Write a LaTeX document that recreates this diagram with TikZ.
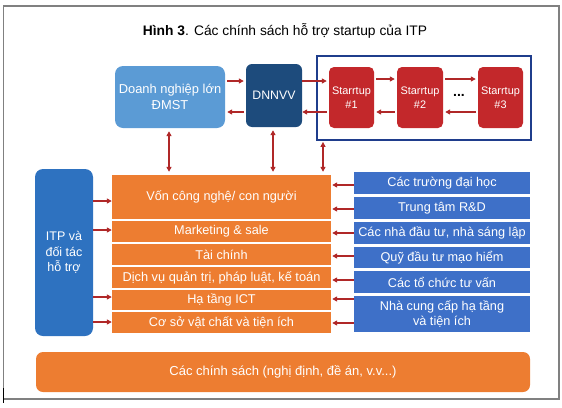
\documentclass[tikz,border=0pt]{standalone}
\usepackage{fontspec}
\setmainfont{Liberation Sans}
\usetikzlibrary{arrows.meta}
\definecolor{lblue}{HTML}{5B9BD5}
\definecolor{dblue}{HTML}{1D4B7C}
\definecolor{sred}{HTML}{C3282B}
\definecolor{fblue}{HTML}{1F3D8C}
\definecolor{iblue}{HTML}{2E72C0}
\definecolor{rblue}{HTML}{3E70C8}
\definecolor{orng}{HTML}{ED7D31}
\definecolor{arred}{HTML}{B02828}
\definecolor{frgray}{HTML}{808080}
\tikzset{
  box/.style={inner sep=0pt, text=white, align=center, font=\fontsize{12.7}{15}\selectfont},
  obox/.style={box, fill=orng},
  rbox/.style={box, fill=rblue},
  arr/.style={draw=arred, line width=1.6pt, -{Triangle[length=5pt,width=5pt]}},
  darr/.style={draw=arred, line width=1.6pt, {Triangle[length=5pt,width=5pt]}-{Triangle[length=5pt,width=5pt]}},
}
\begin{document}
\begin{tikzpicture}[x=1pt,y=-1pt]
\useasboundingbox (0,0) rectangle (562,407);
% outer frame
\draw[frgray, line width=1.2pt] (3.5,6) rectangle (559,399);
\draw[black, line width=0.8pt] (3.5,388) -- (3.5,403);
% title
\node[font=\fontsize{13.8}{15}\selectfont] (title) at (285,30.5) {\textbf{Hình 3}. Các chính sách hỗ trợ startup của ITP};
% top row
\node[box, fill=lblue, rounded corners=8pt, minimum width=110pt, minimum height=62pt, font=\fontsize{12.9}{16}\selectfont] (dn) at (170,97) {Doanh nghiệp lớn\\ĐMST};
\node[box, fill=dblue, rounded corners=6pt, minimum width=56pt, minimum height=63pt, font=\fontsize{12.3}{16}\selectfont] (dnnvv) at (274,95.5) {DNNVV};
\node[draw=fblue, line width=1.8pt, minimum width=214pt, minimum height=84pt, inner sep=0pt] (grp) at (424,98) {};
\node[box, fill=sred, rounded corners=5pt, minimum width=45pt, minimum height=61pt, font=\fontsize{10.9}{14}\selectfont] (s1) at (351.5,97.5) {Starrtup\\\#1};
\node[box, fill=sred, rounded corners=5pt, minimum width=46pt, minimum height=61pt, font=\fontsize{10.9}{14}\selectfont] (s2) at (420,97.5) {Starrtup\\\#2};
\node[box, fill=sred, rounded corners=5pt, minimum width=45pt, minimum height=61pt, font=\fontsize{10.9}{14}\selectfont] (s3) at (500.5,97.5) {Starrtup\\\#3};
\node[font=\fontsize{14}{14}\selectfont\bfseries] (dots) at (459,95) {...};
% left
\node[box, fill=iblue, rounded corners=8pt, minimum width=58pt, minimum height=167pt, font=\fontsize{12.5}{15.5}\selectfont] (itp) at (64,252.5) {ITP và\\đối tác\\hỗ trợ};
% orange rows
\node[obox, minimum width=219pt, minimum height=44pt] (o1) at (221.5,197) {Vốn công nghệ/ con người};
\node[obox, minimum width=219pt, minimum height=21pt] (o2) at (221.5,231.5) {Marketing \& sale};
\node[obox, minimum width=219pt, minimum height=21pt] (o3) at (221.5,254.5) {Tài chính};
\node[obox, minimum width=219pt, minimum height=21pt, font=\fontsize{12.8}{14}\selectfont] (o4) at (221.5,277.5) {Dịch vụ quản trị, pháp luật, kế toán};
\node[obox, minimum width=219pt, minimum height=20pt] (o5) at (221.5,300) {Hạ tầng ICT};
\node[obox, minimum width=219pt, minimum height=21pt] (o6) at (221.5,322.5) {Cơ sở vật chất và tiện ích};
% right column
\node[rbox, minimum width=176pt, minimum height=22pt] (r1) at (442,183) {Các trường đại học};
\node[rbox, minimum width=176pt, minimum height=22pt] (r2) at (442,208) {Trung tâm R\&D};
\node[rbox, minimum width=176pt, minimum height=22pt] (r3) at (442,233) {Các nhà đầu tư, nhà sáng lập};
\node[rbox, minimum width=176pt, minimum height=21pt] (r4) at (442,257.5) {Quỹ đầu tư mạo hiểm};
\node[rbox, minimum width=176pt, minimum height=22pt] (r5) at (442,282) {Các tổ chức tư vấn};
\node[rbox, minimum width=176pt, minimum height=36pt, font=\fontsize{12.7}{14.5}\selectfont] (r6) at (442,314) {Nhà cung cấp hạ tầng\\và tiện ích};
% bottom
\node[box, fill=orng, rounded corners=7pt, minimum width=494pt, minimum height=40pt, font=\fontsize{13}{14}\selectfont] (pol) at (283,372) {Các chính sách (nghị định, đề án, v.v...)};
% top row arrows
\draw[arr, shorten <=2pt, shorten >=2pt] (dn.east |- 0,81) -- (dnnvv.west |- 0,81);
\draw[arr, shorten <=2pt, shorten >=2pt] (dnnvv.west |- 0,112) -- (dn.east |- 0,112);
\draw[arr, shorten >=2pt] (dnnvv.east |- 0,81) -- (s1.west |- 0,81);
\draw[arr, shorten <=2pt] (s1.west |- 0,112) -- (dnnvv.east |- 0,112);
\draw[arr, shorten <=2pt, shorten >=2pt] (s1.east |- 0,79) -- (s2.west |- 0,79);
\draw[arr, shorten <=2pt, shorten >=2pt] (s2.west |- 0,112) -- (s1.east |- 0,112);
\draw[arr, shorten <=2pt, shorten >=2pt] (s2.east |- 0,79) -- (s3.west |- 0,79);
\draw[arr, shorten <=2pt, shorten >=2pt] (s3.west |- 0,112) -- (s2.east |- 0,112);
% vertical double arrows
\draw[darr, shorten <=3pt, shorten >=3pt] (dn.south -| 169,0) -- (o1.north -| 169,0);
\draw[darr, shorten <=3pt, shorten >=3pt] (dnnvv.south -| 273,0) -- (o1.north -| 273,0);
\draw[darr, shorten <=1pt, shorten >=3pt] (grp.south -| 323,0) -- (o1.north -| 323,0);
% ITP arrows
\draw[arr] (itp.east |- 0,201) -- (o1.west |- 0,201);
\draw[arr] (itp.east |- 0,230) -- (o2.west |- 0,230);
\draw[arr] (itp.east |- 0,297) -- (o5.west |- 0,297);
\draw[arr] (itp.east |- 0,322) -- (o6.west |- 0,322);
% right arrows
\draw[arr, shorten >=1pt] (r1.west |- 0,185) -- (o1.east |- 0,185);
\draw[arr, shorten >=1pt] (r2.west |- 0,209) -- (o1.east |- 0,209);
\draw[arr, shorten >=1pt] (r3.west |- 0,233) -- (o2.east |- 0,233);
\draw[arr, shorten >=1pt] (r4.west |- 0,256) -- (o3.east |- 0,256);
\draw[arr, shorten >=1pt] (r5.west |- 0,280) -- (o4.east |- 0,280);
\draw[arr, shorten >=1pt] (r6.west |- 0,299) -- (o5.east |- 0,299);
\draw[arr, shorten >=1pt] (r6.west |- 0,323) -- (o6.east |- 0,323);
\end{tikzpicture}
\end{document}
